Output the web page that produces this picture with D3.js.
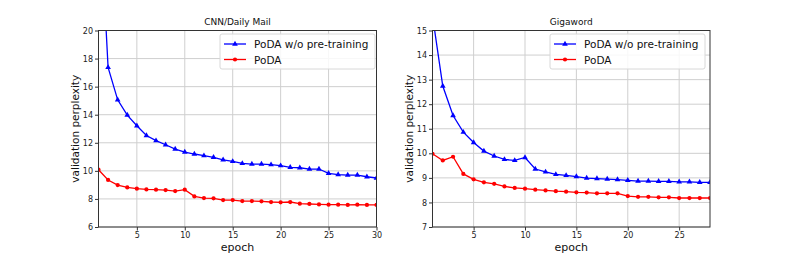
<!DOCTYPE html>
<html>
<head>
<meta charset="utf-8">
<script src="https://cdn.jsdelivr.net/npm/d3@7"></script>
<style>
  body { margin: 0; background: #fff; }
  svg { display: block; font-family: "DejaVu Sans", sans-serif; }
</style>
</head>
<body>
<svg id="chart" width="789" height="256"></svg>
<script>
// CNN/Daily Mail validation perplexity per epoch
const cnnEpochs = d3.range(1, 31);
const cnnNoPretrain = [30.5, 17.37, 15.06, 13.97, 13.21, 12.52, 12.15, 11.86, 11.55, 11.34,
  11.2, 11.08, 10.96, 10.79, 10.67, 10.53, 10.48, 10.48, 10.44, 10.37,
  10.25, 10.22, 10.13, 10.13, 9.82, 9.73, 9.7, 9.7, 9.58, 9.49];
const cnnPoda = [10.08, 9.35, 8.99, 8.82, 8.73, 8.68, 8.66, 8.63, 8.56, 8.66,
  8.18, 8.06, 8.04, 7.92, 7.92, 7.85, 7.85, 7.83, 7.78, 7.76,
  7.78, 7.66, 7.64, 7.61, 7.59, 7.59, 7.57, 7.59, 7.57, 7.57];

// Gigaword validation perplexity per epoch
const gigaEpochs = d3.range(1, 29);
const gigaNoPretrain = [15.6, 12.74, 11.54, 10.86, 10.44, 10.09, 9.89, 9.75, 9.71, 9.83,
  9.36, 9.24, 9.14, 9.1, 9.05, 8.99, 8.97, 8.95, 8.93, 8.9,
  8.87, 8.87, 8.86, 8.86, 8.84, 8.84, 8.82, 8.82];
const gigaPoda = [9.98, 9.71, 9.86, 9.16, 8.94, 8.82, 8.76, 8.65, 8.59, 8.56,
  8.52, 8.49, 8.46, 8.44, 8.41, 8.4, 8.37, 8.37, 8.37, 8.26,
  8.23, 8.23, 8.21, 8.21, 8.18, 8.18, 8.18, 8.18];

const cnnXTicks = [5, 10, 15, 20, 25, 30];
const cnnYTicks = [6, 8, 10, 12, 14, 16, 18, 20];
const gigaXTicks = [5, 10, 15, 20, 25];
const gigaYTicks = [7, 8, 9, 10, 11, 12, 13, 14, 15];

const seriesNames = ['PoDA w/o pre-training', 'PoDA'];
const blue = '#0000ff';
const red = '#ff0000';

const svg = d3.select('#chart');

function drawPanel(opts) {
  const x = d3.scaleLinear().domain(opts.xDomain).range([opts.left, opts.right]);
  const y = d3.scaleLinear().domain(opts.yDomain).range([opts.bottom, opts.top]);

  const g = svg.append('g');

  // clip so the first big values get cut at the top
  const clipId = 'clip-' + opts.id;
  g.append('clipPath').attr('id', clipId)
    .append('rect')
    .attr('x', opts.left).attr('y', opts.top)
    .attr('width', opts.right - opts.left).attr('height', opts.bottom - opts.top);

  // grid
  g.append('g')
    .selectAll('line.vg')
    .data(opts.xTicks)
    .enter().append('line')
    .attr('x1', d => x(d)).attr('x2', d => x(d))
    .attr('y1', opts.top).attr('y2', opts.bottom)
    .attr('stroke', '#cfcfcf').attr('stroke-width', 1);
  g.append('g')
    .selectAll('line.hg')
    .data(opts.yTicks)
    .enter().append('line')
    .attr('x1', opts.left).attr('x2', opts.right)
    .attr('y1', d => y(d)).attr('y2', d => y(d))
    .attr('stroke', '#cfcfcf').attr('stroke-width', 1);

  // axes
  const xAxis = d3.axisBottom(x).tickValues(opts.xTicks).tickSizeInner(3.5).tickSizeOuter(0).tickPadding(2);
  const yAxis = d3.axisLeft(y).tickValues(opts.yTicks).tickSizeInner(3.5).tickSizeOuter(0).tickPadding(2);

  function styleAxis(a) {
    a.select('.domain').remove();
    a.selectAll('.tick line').attr('stroke', '#333');
    a.selectAll('.tick text').attr('fill', '#222').style('font-size', '8px')
      .style('font-family', '"DejaVu Sans", sans-serif');
  }

  g.append('g')
    .attr('transform', 'translate(0,' + opts.bottom + ')')
    .call(xAxis).call(styleAxis);
  g.append('g')
    .attr('transform', 'translate(' + opts.left + ',0)')
    .call(yAxis).call(styleAxis);

  // series
  const lineGen = d3.line().x(d => x(d[0])).y(d => y(d[1]));
  const plot = g.append('g').attr('clip-path', 'url(#' + clipId + ')');

  const series = [
    { vals: opts.noPretrain, color: blue, marker: d3.symbolTriangle },
    { vals: opts.poda, color: red, marker: d3.symbolCircle }
  ];

  series.forEach(s => {
    const pts = opts.epochs.map((e, i) => [e, s.vals[i]]);
    plot.append('path')
      .datum(pts)
      .attr('d', lineGen)
      .attr('fill', 'none')
      .attr('stroke', s.color)
      .attr('stroke-width', 1.3);
    plot.selectAll(null)
      .data(pts)
      .enter().append('path')
      .attr('transform', d => 'translate(' + x(d[0]) + ',' + y(d[1]) + ')')
      .attr('d', d3.symbol().type(s.marker).size(14))
      .attr('fill', s.color);
  });

  // frame
  g.append('rect')
    .attr('x', opts.left).attr('y', opts.top)
    .attr('width', opts.right - opts.left).attr('height', opts.bottom - opts.top)
    .attr('fill', 'none').attr('stroke', '#333').attr('stroke-width', 1);

  // title
  g.append('text')
    .attr('x', (opts.left + opts.right) / 2).attr('y', opts.top - 6)
    .attr('text-anchor', 'middle')
    .style('font-size', '9px').attr('fill', '#111')
    .text(opts.title);

  // axis labels
  g.append('text')
    .attr('x', (opts.left + opts.right) / 2).attr('y', opts.bottom + 24)
    .attr('text-anchor', 'middle')
    .style('font-size', '11px').attr('fill', '#111')
    .text('epoch');
  g.append('text')
    .attr('transform', 'translate(' + (opts.left - 20) + ',' + ((opts.top + opts.bottom) / 2) + ') rotate(-90)')
    .attr('text-anchor', 'middle')
    .style('font-size', '10.5px').attr('fill', '#111')
    .text('validation perplexity');

  // legend
  const lg = g.append('g').attr('transform', 'translate(' + opts.legendX + ',' + (opts.top + 3.5) + ')');
  lg.append('rect')
    .attr('width', opts.legendW).attr('height', 35).attr('rx', 2)
    .attr('fill', 'rgba(255,255,255,0.85)').attr('stroke', '#d8d8d8');
  series.forEach((s, i) => {
    const ly = 10 + i * 15.5;
    lg.append('line')
      .attr('x1', 4).attr('x2', 26).attr('y1', ly).attr('y2', ly)
      .attr('stroke', s.color).attr('stroke-width', 1.3);
    lg.append('path')
      .attr('transform', 'translate(15,' + ly + ')')
      .attr('d', d3.symbol().type(s.marker).size(14))
      .attr('fill', s.color);
    lg.append('text')
      .attr('x', 34).attr('y', ly + 4)
      .style('font-size', '10.5px').attr('fill', '#111')
      .text(seriesNames[i]);
  });
}

drawPanel({
  id: 'cnn', title: 'CNN/Daily Mail',
  left: 98.5, right: 376.5, top: 30.5, bottom: 227,
  xDomain: [1, 30], yDomain: [6, 20],
  xTicks: cnnXTicks, yTicks: cnnYTicks,
  epochs: cnnEpochs, noPretrain: cnnNoPretrain, poda: cnnPoda,
  legendX: 220, legendW: 155
});

drawPanel({
  id: 'giga', title: 'Gigaword',
  left: 432.5, right: 710, top: 30.5, bottom: 227,
  xDomain: [1, 28], yDomain: [7, 15],
  xTicks: gigaXTicks, yTicks: gigaYTicks,
  epochs: gigaEpochs, noPretrain: gigaNoPretrain, poda: gigaPoda,
  legendX: 550, legendW: 155
});
</script>
</body>
</html>
